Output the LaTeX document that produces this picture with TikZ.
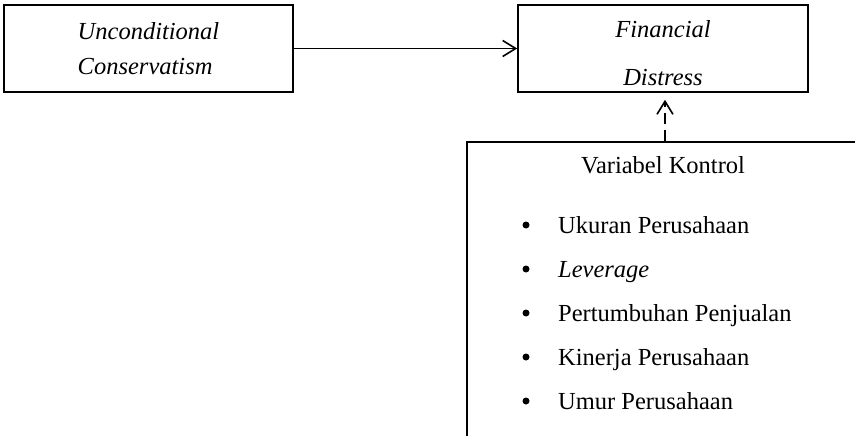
\documentclass[tikz,border=0pt]{standalone}
\usepackage{fontspec}
\setmainfont{Liberation Serif}
\usetikzlibrary{arrows.meta}
\begin{document}
\begin{tikzpicture}[x=1pt,y=-1pt,
  mybox/.style={draw,rectangle,line width=1.6pt,inner sep=0pt},
  mydot/.style={circle,fill,inner sep=0pt,minimum size=7},
  myarrow/.style={line width=1.6pt,-{Straight Barb[length=13pt,width=16pt]}},
  every node/.style={font=\fontsize{24.5}{35}\selectfont}]
\useasboundingbox (0,0) rectangle (855,436);
\clip (0,0) rectangle (855,436);
\node [mybox,minimum width=289,minimum height=87,align=left] (uncon) at (148.5,48.5) {\textit{Unconditional}\\\textit{Conservatism}};
\node [mybox,minimum width=290,minimum height=87] (fd) at (663,48.5) {};
\node [align=center,font=\fontsize{24.5}{48}\selectfont] (fdteks) at (663,53) {\textit{Financial}\\\textit{Distress}};
\node [mybox,minimum width=396,minimum height=330] (kontrol) at (665,307) {};
\node [anchor=base] (judul) at (663,173) {Variabel Kontrol};
  \foreach \teks/\pos in {Ukuran Perusahaan/0,\textit{Leverage}/1,Pertumbuhan Penjualan/2,Kinerja Perusahaan/3,Umur Perusahaan/4}
  {  \node [mydot] (dot\pos) at (526,225+44*\pos) {};
     \node [anchor=base west,inner xsep=0pt] (item\pos) at (558,233+44*\pos) {\teks};}
\draw [myarrow] (uncon.east) -- (fd.west);
\draw [myarrow,dash pattern=on 11pt off 6pt,shorten >=7pt] (kontrol.north) -- (kontrol.north |- fd.south);
\end{tikzpicture}
\end{document}
